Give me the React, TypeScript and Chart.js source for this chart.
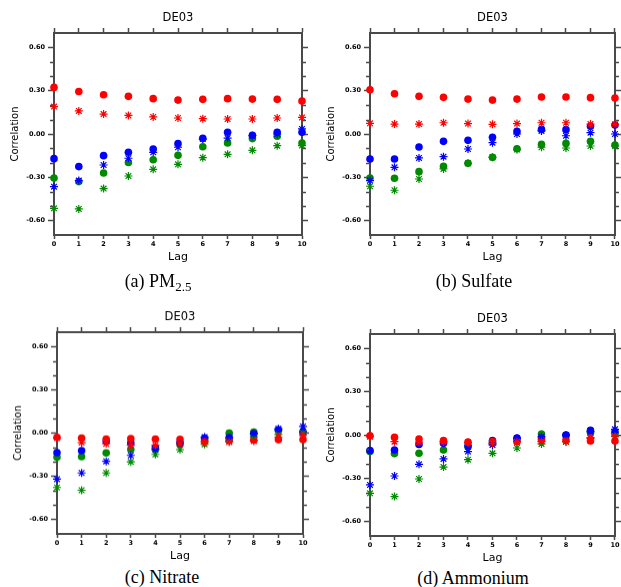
import React, { useEffect, useRef } from 'react';
import { Chart, registerables } from 'chart.js';

Chart.register(...registerables);
Chart.defaults.color = '#000';

// ---------- data ----------
const lags = [0, 1, 2, 3, 4, 5, 6, 7, 8, 9, 10];
const xTickLabels = ['0', '1', '2', '3', '4', '5', '6', '7', '8', '9', '10'];
const yMajorTicks = [-0.6, -0.3, 0, 0.3, 0.6];
const yMinorTicks = [-0.5, -0.4, -0.2, -0.1, 0.1, 0.2, 0.4, 0.5];

// (a) PM2.5
const pmRedDots = [0.323, 0.295, 0.272, 0.261, 0.245, 0.235, 0.24, 0.245, 0.242, 0.24, 0.228];
const pmRedStars = [0.19, 0.16, 0.138, 0.129, 0.118, 0.111, 0.106, 0.104, 0.104, 0.111, 0.115];
const pmBlueDots = [-0.171, -0.226, -0.15, -0.127, -0.104, -0.067, -0.03, 0.012, -0.009, 0.012, 0.012];
const pmBlueStars = [-0.365, -0.323, -0.215, -0.168, -0.127, -0.092, -0.035, -0.028, -0.012, 0.0, 0.035];
const pmGreenDots = [-0.305, -0.33, -0.27, -0.198, -0.178, -0.148, -0.088, -0.062, -0.032, -0.016, -0.062];
const pmGreenStars = [-0.515, -0.519, -0.378, -0.291, -0.245, -0.21, -0.164, -0.141, -0.113, -0.081, -0.08];

// (b) Sulfate
const so4RedDots = [0.307, 0.279, 0.261, 0.254, 0.242, 0.235, 0.242, 0.256, 0.256, 0.252, 0.249];
const so4RedStars = [0.074, 0.069, 0.069, 0.078, 0.072, 0.067, 0.072, 0.078, 0.078, 0.069, 0.067];
const so4BlueDots = [-0.173, -0.173, -0.09, -0.051, -0.044, -0.023, 0.018, 0.032, 0.03, 0.053, 0.062];
const so4BlueStars = [-0.323, -0.231, -0.166, -0.157, -0.104, -0.06, 0.0, 0.021, -0.012, 0.009, 0.0];
const so4GreenDots = [-0.305, -0.307, -0.261, -0.224, -0.203, -0.162, -0.102, -0.072, -0.065, -0.051, -0.076];
const so4GreenStars = [-0.362, -0.39, -0.312, -0.242, -0.203, -0.162, -0.108, -0.092, -0.097, -0.083, -0.083];

// (c) Nitrate
const no3RedDots = [-0.03, -0.035, -0.042, -0.039, -0.042, -0.044, -0.058, -0.05, -0.048, -0.046, -0.046];
const no3RedStars = [-0.035, -0.067, -0.074, -0.085, -0.085, -0.074, -0.062, -0.062, -0.055, -0.028, -0.016];
const no3BlueDots = [-0.136, -0.122, -0.058, -0.069, -0.1, -0.067, -0.035, -0.032, -0.005, 0.023, 0.007];
const no3BlueStars = [-0.32, -0.277, -0.196, -0.155, -0.115, -0.074, -0.028, -0.032, -0.005, 0.03, 0.046];
const no3GreenDots = [-0.168, -0.164, -0.138, -0.113, -0.111, -0.078, -0.046, 0.0, 0.007, 0.018, 0.007];
const no3GreenStars = [-0.378, -0.397, -0.277, -0.2, -0.148, -0.115, -0.078, -0.055, -0.028, -0.009, 0.0];

// (d) Ammonium
const nh4RedDots = [-0.005, -0.016, -0.028, -0.039, -0.048, -0.046, -0.046, -0.035, -0.035, -0.042, -0.042];
const nh4RedStars = [-0.012, -0.046, -0.05, -0.046, -0.053, -0.058, -0.046, -0.046, -0.046, -0.023, -0.012];
const nh4BlueDots = [-0.108, -0.104, -0.065, -0.058, -0.074, -0.039, -0.021, -0.021, -0.002, 0.032, 0.023];
const nh4BlueStars = [-0.346, -0.284, -0.203, -0.166, -0.115, -0.069, -0.023, -0.012, 0.0, 0.023, 0.039];
const nh4GreenDots = [-0.115, -0.129, -0.127, -0.104, -0.081, -0.058, -0.028, 0.007, 0.0, 0.016, 0.007];
const nh4GreenStars = [-0.404, -0.427, -0.305, -0.222, -0.171, -0.127, -0.09, -0.062, -0.046, -0.018, -0.007];

const panelTitle = 'DE03';
const xTitle = 'Lag';
const yTitle = 'Correlation';

// ---------- styles / layout ----------
const RED = '#ff0000';
const BLUE = '#0000ff';
const GREEN = '#008a00';
const AXIS = '#4a4a4a';

type PanelDef = {
  x: number; y: number; w: number;
  plot: { l: number; t: number; r: number; b: number };
  caption: string; sub?: string; capX: number; capY: number;
  series: { dots: number[]; stars: number[]; color: string }[];
};

const panels: PanelDef[] = [
  {
    x: 0, y: 0, w: 310, plot: { l: 54, t: 33, r: 302, b: 235 },
    caption: '(a) PM', sub: '2.5', capX: 158, capY: 281,
    series: [
      { dots: pmRedDots, stars: pmRedStars, color: RED },
      { dots: pmBlueDots, stars: pmBlueStars, color: BLUE },
      { dots: pmGreenDots, stars: pmGreenStars, color: GREEN },
    ],
  },
  {
    x: 310, y: 0, w: 311, plot: { l: 370, t: 33, r: 616, b: 235 },
    caption: '(b) Sulfate', capX: 474, capY: 281,
    series: [
      { dots: so4RedDots, stars: so4RedStars, color: RED },
      { dots: so4BlueDots, stars: so4BlueStars, color: BLUE },
      { dots: so4GreenDots, stars: so4GreenStars, color: GREEN },
    ],
  },
  {
    x: 0, y: 290, w: 310, plot: { l: 57, t: 332, r: 303, b: 533.5 },
    caption: '(c) Nitrate', capX: 162, capY: 577,
    series: [
      { dots: no3RedDots, stars: no3RedStars, color: RED },
      { dots: no3BlueDots, stars: no3BlueStars, color: BLUE },
      { dots: no3GreenDots, stars: no3GreenStars, color: GREEN },
    ],
  },
  {
    x: 310, y: 290, w: 311, plot: { l: 370, t: 334, r: 616, b: 536 },
    caption: '(d) Ammonium', capX: 473, capY: 578,
    series: [
      { dots: nh4RedDots, stars: nh4RedStars, color: RED },
      { dots: nh4BlueDots, stars: nh4BlueStars, color: BLUE },
      { dots: nh4GreenDots, stars: nh4GreenStars, color: GREEN },
    ],
  },
];

const minorTicksPlugin = {
  id: 'minorTicks',
  afterDraw(chart: any) {
    const ctx = chart.ctx;
    const ys = chart.scales.y;
    const { left, right } = chart.chartArea;
    ctx.save();
    ctx.strokeStyle = AXIS;
    ctx.lineWidth = 1.5;
    yMinorTicks.forEach((v) => {
      const py = Math.round(ys.getPixelForValue(v)) + 0.5;
      ctx.beginPath();
      ctx.moveTo(left - 1, py);
      ctx.lineTo(left - 4, py);
      ctx.moveTo(right + 1, py);
      ctx.lineTo(right + 4, py);
      ctx.stroke();
    });
    ctx.restore();
  },
};

function Panel({ p }: { p: PanelDef }) {
  const ref = useRef<HTMLCanvasElement | null>(null);
  const ch = p.plot.b + 31 - p.y;
  useEffect(() => {
    if (!ref.current) return;
    const leftW = p.plot.l - p.x;
    const rightW = p.x + p.w - p.plot.r;
    const topH = p.plot.t - p.y;
    const bottomH = ch - (p.plot.b - p.y);
    const topAxisH = 6;
    const titleSize = 11.5;
    const titleLH = titleSize * 1.2;
    const titlePadTop = (p.plot.t - 14.5) - p.y - titleLH / 2;
    const titlePadBottom = topH - topAxisH - titlePadTop - titleLH;
    const yTitleSize = 10;
    const yTitlePad = (p.plot.l - 38.5) - p.x - (yTitleSize * 1.2) / 2;
    const xTitleSize = 11;
    const xTitlePad = bottomH - 22 - (xTitleSize * 1.2) / 2;

    const grid = (len: number) => ({
      drawOnChartArea: false,
      drawTicks: true,
      tickLength: len,
      tickWidth: 1.5,
      tickColor: AXIS,
    });
    const border = { display: true, width: 2, color: AXIS };
    const majorY = (s: any) => {
      s.ticks = yMajorTicks.map((v) => ({ value: v }));
    };
    const majorX = (s: any) => {
      s.ticks = lags.map((v) => ({ value: v }));
    };
    const tickFont = { family: 'DejaVu Sans', size: 6.5, weight: 'bold' };

    const datasets: any[] = [];
    p.series.forEach((s) => {
      datasets.push({
        label: 'stars',
        data: lags.map((x, i) => ({ x, y: s.stars[i] })),
        pointStyle: 'star',
        pointRadius: 4,
        borderColor: s.color,
        backgroundColor: s.color,
        borderWidth: 1.2,
        clip: false,
      });
    });
    p.series.forEach((s) => {
      datasets.push({
        label: 'dots',
        data: lags.map((x, i) => ({ x, y: s.dots[i] })),
        pointStyle: 'circle',
        pointRadius: 3.8,
        borderWidth: 0,
        backgroundColor: s.color,
        borderColor: s.color,
        clip: false,
      });
    });

    const chart = new Chart(ref.current, {
      type: 'scatter',
      data: { datasets },
      plugins: [minorTicksPlugin],
      options: {
        responsive: false,
        animation: false,
        devicePixelRatio: 1,
        layout: { padding: 0 },
        plugins: {
          legend: { display: false },
          tooltip: { enabled: false },
          title: {
            display: true,
            text: panelTitle,
            fullSize: false,
            color: '#000',
            font: { family: 'DejaVu Sans', size: titleSize, weight: 'normal' },
            padding: { top: titlePadTop, bottom: titlePadBottom },
          },
        },
        scales: {
          x: {
            type: 'linear',
            position: 'bottom',
            min: 0,
            max: 10,
            afterBuildTicks: majorX,
            ticks: {
              autoSkip: false,
              maxRotation: 0,
              padding: 1.5,
              color: '#000',
              font: tickFont,
              callback: (v: any) => xTickLabels[Math.round(Number(v))],
            },
            grid: grid(4),
            border,
            title: {
              display: true,
              text: xTitle,
              color: '#000',
              font: { family: 'DejaVu Sans', size: xTitleSize },
              padding: { top: 0, bottom: xTitlePad },
            },
            afterFit: (s: any) => { s.height = bottomH; },
          },
          x2: {
            type: 'linear',
            position: 'top',
            min: 0,
            max: 10,
            afterBuildTicks: majorX,
            ticks: { display: false },
            grid: grid(5),
            border,
            afterFit: (s: any) => { s.height = topAxisH; },
          },
          y: {
            type: 'linear',
            position: 'left',
            min: -0.7,
            max: 0.7,
            afterBuildTicks: majorY,
            ticks: {
              autoSkip: false,
              padding: 3,
              color: '#000',
              font: tickFont,
              callback: (v: any) => Number(v).toFixed(2),
            },
            grid: grid(6),
            border,
            title: {
              display: true,
              text: yTitle,
              color: '#000',
              font: { family: 'DejaVu Sans', size: yTitleSize },
              padding: { top: yTitlePad, bottom: 0 },
            },
            afterFit: (s: any) => { s.width = leftW; },
          },
          y2: {
            type: 'linear',
            position: 'right',
            min: -0.7,
            max: 0.7,
            afterBuildTicks: majorY,
            ticks: { display: false },
            grid: grid(6),
            border,
            afterFit: (s: any) => { s.width = rightW; },
          },
        },
      } as any,
    });
    return () => chart.destroy();
  }, []);
  return (
    <canvas
      ref={ref}
      width={p.w}
      height={ch}
      style={{ position: 'absolute', left: p.x, top: p.y, width: p.w, height: ch }}
    />
  );
}

function Caption({ p }: { p: PanelDef }) {
  return (
    <div
      style={{
        position: 'absolute',
        left: p.capX - 110,
        top: p.capY - 11,
        width: 220,
        height: 22,
        lineHeight: '22px',
        textAlign: 'center',
        fontFamily: '"Liberation Serif", "Times New Roman", serif',
        fontSize: 18,
        color: '#000',
        whiteSpace: 'nowrap',
      }}
    >
      {p.caption}
      {p.sub ? (
        <span style={{ fontSize: 13, verticalAlign: -4, lineHeight: 0 }}>{p.sub}</span>
      ) : null}
    </div>
  );
}

export default function App() {
  return (
    <div
      style={{
        position: 'absolute',
        left: 0,
        top: 0,
        width: 621,
        height: 587,
        background: '#fff',
        overflow: 'hidden',
      }}
    >
      {panels.map((p, i) => (
        <Panel key={'p' + i} p={p} />
      ))}
      {panels.map((p, i) => (
        <Caption key={'c' + i} p={p} />
      ))}
    </div>
  );
}
